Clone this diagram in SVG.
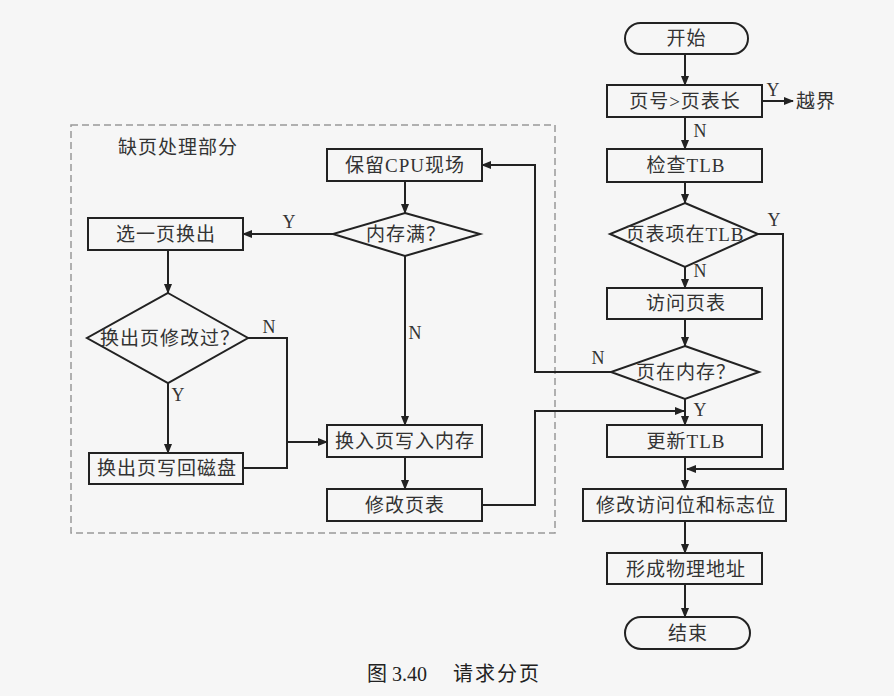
<svg xmlns="http://www.w3.org/2000/svg" width="894" height="696" viewBox="0 0 894 696">
<style>
.bg{fill:#f6f6f6}
.n{fill:none;stroke:#222;stroke-width:2}
.c{fill:none;stroke:#222;stroke-width:2}
.t{font-family:"Liberation Serif","Noto Sans CJK SC",serif;font-size:19px;fill:#333;text-anchor:middle;letter-spacing:1px}
.l{font-family:"Liberation Serif","Noto Sans CJK SC",serif;font-size:18px;fill:#333;text-anchor:middle}
.dash{fill:none;stroke:#999;stroke-width:1.5;stroke-dasharray:7,4}
</style>
<defs>
<marker id="arr" markerWidth="10" markerHeight="8" refX="9" refY="4" orient="auto" markerUnits="userSpaceOnUse">
<path d="M0,0 L10,4 L0,8 z" fill="#222"/>
</marker>
</defs>
<rect class="bg" x="0" y="0" width="894" height="696"/>

<g id="region">
<rect class="dash" x="71" y="125" width="484" height="408"/>
<text class="t" x="178" y="154">缺页处理部分</text>
</g>

<g id="start"><rect class="n" x="625" y="23" width="123" height="31" rx="15.5"/><text class="t" x="686.5" y="45">开始</text></g>
<g id="check_len"><rect class="n" x="607" y="85" width="155" height="32"/><text class="t" x="685" y="108">页号&gt;页表长</text></g>
<g id="out"><text class="t" x="816" y="108">越界</text></g>
<g id="check_tlb"><rect class="n" x="607" y="149" width="155" height="33"/><text class="t" x="686" y="172">检查TLB</text></g>
<g id="in_tlb"><polygon class="n" points="685,203 758,234 685,267 610,234"/><text class="t" x="685" y="241">页表项在TLB</text></g>
<g id="visit_pt"><rect class="n" x="607" y="288" width="155" height="31"/><text class="t" x="686" y="310">访问页表</text></g>
<g id="in_mem"><polygon class="n" points="685,346 759,372 685,399 611,372"/><text class="t" x="686" y="379">页在内存？</text></g>
<g id="update_tlb"><rect class="n" x="607" y="425" width="155" height="32"/><text class="t" x="686" y="448">更新TLB</text></g>
<g id="modify_bits"><rect class="n" x="583" y="489" width="203" height="32"/><text class="t" x="686" y="512">修改访问位和标志位</text></g>
<g id="phys_addr"><rect class="n" x="607" y="553" width="155" height="31"/><text class="t" x="686" y="576">形成物理地址</text></g>
<g id="end"><rect class="n" x="625" y="617" width="125" height="32" rx="16"/><text class="t" x="688" y="640">结束</text></g>

<g id="save_cpu"><rect class="n" x="327" y="149" width="155" height="32"/><text class="t" x="405" y="172">保留CPU现场</text></g>
<g id="mem_full"><polygon class="n" points="405,213 480,234 405,256 333,234"/><text class="t" x="406" y="241">内存满？</text></g>
<g id="select_page"><rect class="n" x="88" y="218" width="155" height="32"/><text class="t" x="166" y="241">选一页换出</text></g>
<g id="modified"><polygon class="n" points="168,293 248,338 168,383 87,338"/><text class="t" x="170" y="345">换出页修改过？</text></g>
<g id="write_back"><rect class="n" x="89" y="453" width="154" height="31"/><text class="t" x="167" y="475">换出页写回磁盘</text></g>
<g id="load_page"><rect class="n" x="327" y="425" width="155" height="32"/><text class="t" x="405" y="448">换入页写入内存</text></g>
<g id="modify_pt"><rect class="n" x="327" y="489" width="155" height="32"/><text class="t" x="405" y="512">修改页表</text></g>

<g id="connectors">
<line class="c" x1="685" y1="54" x2="685" y2="85" marker-end="url(#arr)"/>
<line class="c" x1="762" y1="101" x2="793" y2="101" marker-end="url(#arr)"/>
<line class="c" x1="685" y1="117" x2="685" y2="149" marker-end="url(#arr)"/>
<line class="c" x1="685" y1="182" x2="685" y2="203" marker-end="url(#arr)"/>
<line class="c" x1="685" y1="267" x2="685" y2="288" marker-end="url(#arr)"/>
<line class="c" x1="685" y1="319" x2="685" y2="346" marker-end="url(#arr)"/>
<line class="c" x1="685" y1="399" x2="685" y2="425" marker-end="url(#arr)"/>
<line class="c" x1="685" y1="457" x2="685" y2="489" marker-end="url(#arr)"/>
<line class="c" x1="685" y1="521" x2="685" y2="553" marker-end="url(#arr)"/>
<line class="c" x1="685" y1="584" x2="685" y2="617" marker-end="url(#arr)"/>
<polyline class="c" points="758,234 783,234 783,469 687,469" marker-end="url(#arr)"/>
<polyline class="c" points="611,372 535,372 535,165 482,165" marker-end="url(#arr)"/>
<polyline class="c" points="482,505 535,505 535,411 684,411" marker-end="url(#arr)"/>
<line class="c" x1="405" y1="181" x2="405" y2="213" marker-end="url(#arr)"/>
<line class="c" x1="333" y1="234" x2="243" y2="234" marker-end="url(#arr)"/>
<line class="c" x1="168" y1="250" x2="168" y2="293" marker-end="url(#arr)"/>
<line class="c" x1="168" y1="383" x2="168" y2="453" marker-end="url(#arr)"/>
<polyline class="c" points="248,338 287,338 287,468 243,468"/>
<line class="c" x1="287" y1="442" x2="327" y2="442" marker-end="url(#arr)"/>
<line class="c" x1="405" y1="256" x2="405" y2="425" marker-end="url(#arr)"/>
<line class="c" x1="405" y1="457" x2="405" y2="489" marker-end="url(#arr)"/>
<text class="l" x="773" y="96">Y</text>
<text class="l" x="700" y="137">N</text>
<text class="l" x="774" y="226">Y</text>
<text class="l" x="700" y="277">N</text>
<text class="l" x="598" y="364">N</text>
<text class="l" x="700" y="416">Y</text>
<text class="l" x="289" y="228">Y</text>
<text class="l" x="269" y="333">N</text>
<text class="l" x="178" y="401">Y</text>
<text class="l" x="415" y="339">N</text>
</g>

<g id="caption">
<text x="397" y="681" style="font-family:'Liberation Serif','Noto Sans CJK SC',serif;font-size:20px;fill:#222" text-anchor="middle">图 3.40</text>
<text x="497" y="681" style="font-family:'Liberation Serif','Noto Sans CJK SC',serif;font-size:20px;fill:#222;letter-spacing:2px" text-anchor="middle">请求分页</text>
</g>
</svg>
